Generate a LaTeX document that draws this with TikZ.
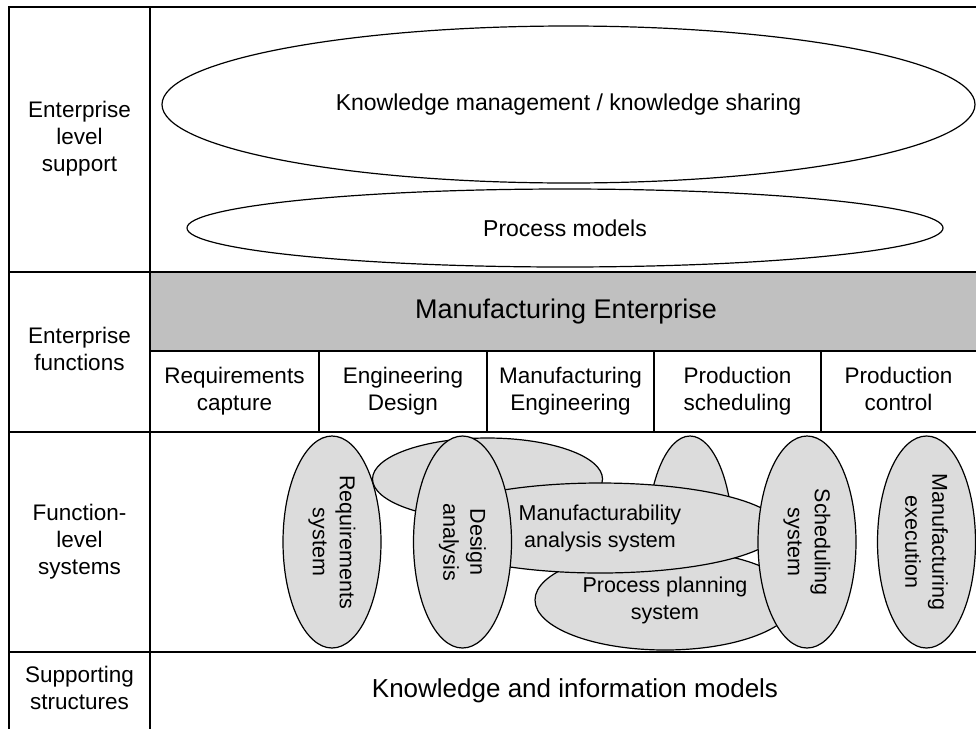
\documentclass[tikz,border=0pt]{standalone}
\usepackage{fontspec}
\setmainfont{Liberation Sans}
\usetikzlibrary{shapes.geometric}
\definecolor{bandgray}{RGB}{192,192,192}
\definecolor{ellgray}{RGB}{220,220,220}
\begin{document}
\begin{tikzpicture}[x=1pt,y=-1pt,
  frame/.style={line width=1.8pt},
  lbl/.style={align=center,inner sep=0pt,font=\fontsize{22.5}{27}\selectfont},
  bigtxt/.style={align=center,inner sep=0pt,font=\fontsize{27}{32}\selectfont},
  wellipse/.style={draw,ellipse,line width=1.2pt,inner sep=0pt,align=center,font=\fontsize{23}{27}\selectfont},
  gellipse/.style={draw,ellipse,fill=ellgray,line width=1.2pt,inner sep=0pt,align=center,font=\fontsize{21.5}{27}\selectfont},
  vellipse/.style={gellipse,rotate=-90,minimum width=212pt,minimum height=98pt}
]
\useasboundingbox (0,0) rectangle (976,729);
% grey band
\fill[bandgray] (150,272) rectangle (976,351);
% frame lines
\draw[frame] (976,7) -- (9,7) -- (9,729);
\draw[frame] (150,7) -- (150,729);
\draw[frame] (9,272) -- (976,272);
\draw[frame] (150,351) -- (976,351);
\draw[frame] (9,432) -- (976,432);
\draw[frame] (9,652) -- (976,652);
\foreach \xx in {319,487,654,821} \draw[frame] (\xx,351) -- (\xx,432);
% row labels
\node[lbl] (l1) at (79.5,139.5) {\strut Enterprise\\\strut level\\\strut support};
\node[lbl] (l2) at (79.5,352) {\strut Enterprise\\\strut functions};
\node[lbl] (l3) at (79.5,542) {\strut Function-\\\strut level\\\strut systems};
\node[lbl] (l4) at (79.5,690.5) {\strut Supporting\\\strut structures};
% enterprise level support
\node[wellipse,minimum width=813pt,minimum height=157pt] (km) at (568.5,104.5) {Knowledge management / knowledge sharing};
\node[wellipse,minimum width=756pt,minimum height=78pt] (pm) at (565,228) {Process models};
% enterprise functions
\node[bigtxt] (me) at (566,311.5) {Manufacturing Enterprise};
\node[lbl] (f1) at (234.5,391.5) {\strut Requirements\\\strut capture};
\node[lbl] (f2) at (403,391.5) {\strut Engineering\\\strut Design};
\node[lbl] (f3) at (570.5,391.5) {\strut Manufacturing\\\strut Engineering};
\node[lbl] (f4) at (737.5,391.5) {\strut Production\\\strut scheduling};
\node[lbl] (f5) at (898.5,391.5) {\strut Production\\\strut control};
% function-level systems
\node[gellipse,minimum width=230pt,minimum height=82pt] (bgA) at (487.5,479) {};
\node[gellipse,minimum width=86pt,minimum height=212pt] (bgB) at (690,542) {};
\node[gellipse,minimum width=260pt,minimum height=100pt] (pp) at (665,600) {Process planning\\system};
\node[gellipse,minimum width=360pt,minimum height=90pt] (ma) at (600,528) {Manufacturability\\analysis system};
\node[vellipse] (rs) at (332,542) {Requirements\\system};
\node[vellipse] (da) at (462.5,542) {Design\\analysis};
\node[vellipse] (ss) at (807,542) {Scheduling\\system};
\node[vellipse] (mx) at (926.5,542) {Manufacturing\\execution};
% supporting structures
\node[lbl,font=\fontsize{26}{30}\selectfont] (kim) at (575,690.5) {Knowledge and information models};
\end{tikzpicture}
\end{document}
